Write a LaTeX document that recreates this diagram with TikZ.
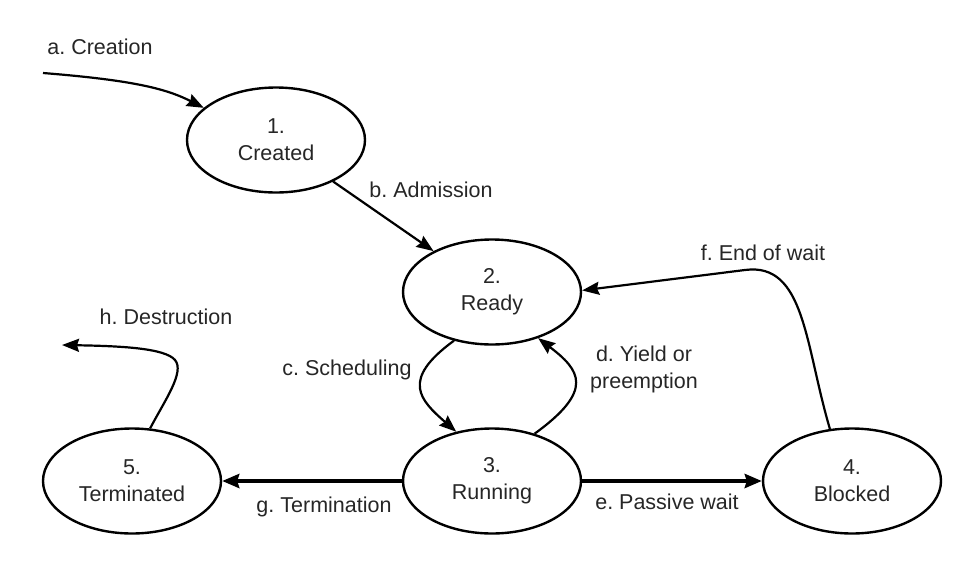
\documentclass[tikz,border=0pt]{standalone}
\usepackage{fontspec}
\setmainfont{Liberation Sans}
\usetikzlibrary{shapes.geometric,arrows.meta}
\frenchspacing
\begin{document}
\begin{tikzpicture}[x=1pt,y=-1pt,
  state/.style={ellipse, draw=black, line width=2.4pt, minimum width=178pt, minimum height=105pt, inner sep=0pt, align=center, font=\fontsize{21.5}{27}\selectfont, text=black!85},
  lbl/.style={font=\fontsize{21.5}{27}\selectfont, text=black!85, inner sep=0pt, align=center},
  conn/.style={line width=2.2pt, black, -{Stealth[length=17pt,width=13pt,inset=2pt]}},
  heavyconn/.style={line width=4.2pt, black, -{Stealth[length=17pt,width=14pt,inset=2pt]}}
]
\useasboundingbox (0,0) rectangle (972,584);
% states
\node[state] (n1) at (276,140) {1.\\Created};
\node[state] (n2) at (492,292) {2.\\Ready};
\node[state] (n3) at (492,481) {3.\\Running};
\node[state] (n4) at (852,481) {4.\\Blocked};
\node[state] (n5) at (132,481) {5.\\Terminated};
% labels
\node[lbl] (la) at (100,47) {a. Creation};
\node[lbl] (lb) at (431,190) {b. Admission};
\node[lbl] (lc) at (347,370) {c. Scheduling};
\node[lbl] (ld) at (644,369) {d. Yield or\\preemption};
\node[lbl] (le) at (667,502) {e. Passive wait};
\node[lbl] (lf) at (763,253) {f. End of wait};
\node[lbl] (lg) at (324,507) {g. Termination};
\node[lbl] (lh) at (166,317) {h. Destruction};
% free ends
\coordinate (astart) at (43,73);
\coordinate (hend) at (62,345);
% connectors
\draw[conn] (astart) .. controls (130,80) and (165,88) .. (n1.156.6);
\draw[conn] (n1.-36.4) -- (n2.145);
\draw[conn] (n2.-128) .. controls (400,380) and (420,400) .. (n3.126.2);
\draw[conn] (n3.48.7) .. controls (595,390) and (580,370) .. (n2.-45);
\draw[heavyconn] (n3.east) -- (n4.west);
\draw[conn] (n4.113.9) .. controls (805,345) and (805,262) .. (745,270) -- (n2.1.3);
\draw[heavyconn] (n3.west) -- (n5.east);
\draw[conn] (n5.71.2) .. controls (165,400) and (185,372) .. (175,360) .. controls (165,348) and (120,346) .. (hend);
\end{tikzpicture}
\end{document}
